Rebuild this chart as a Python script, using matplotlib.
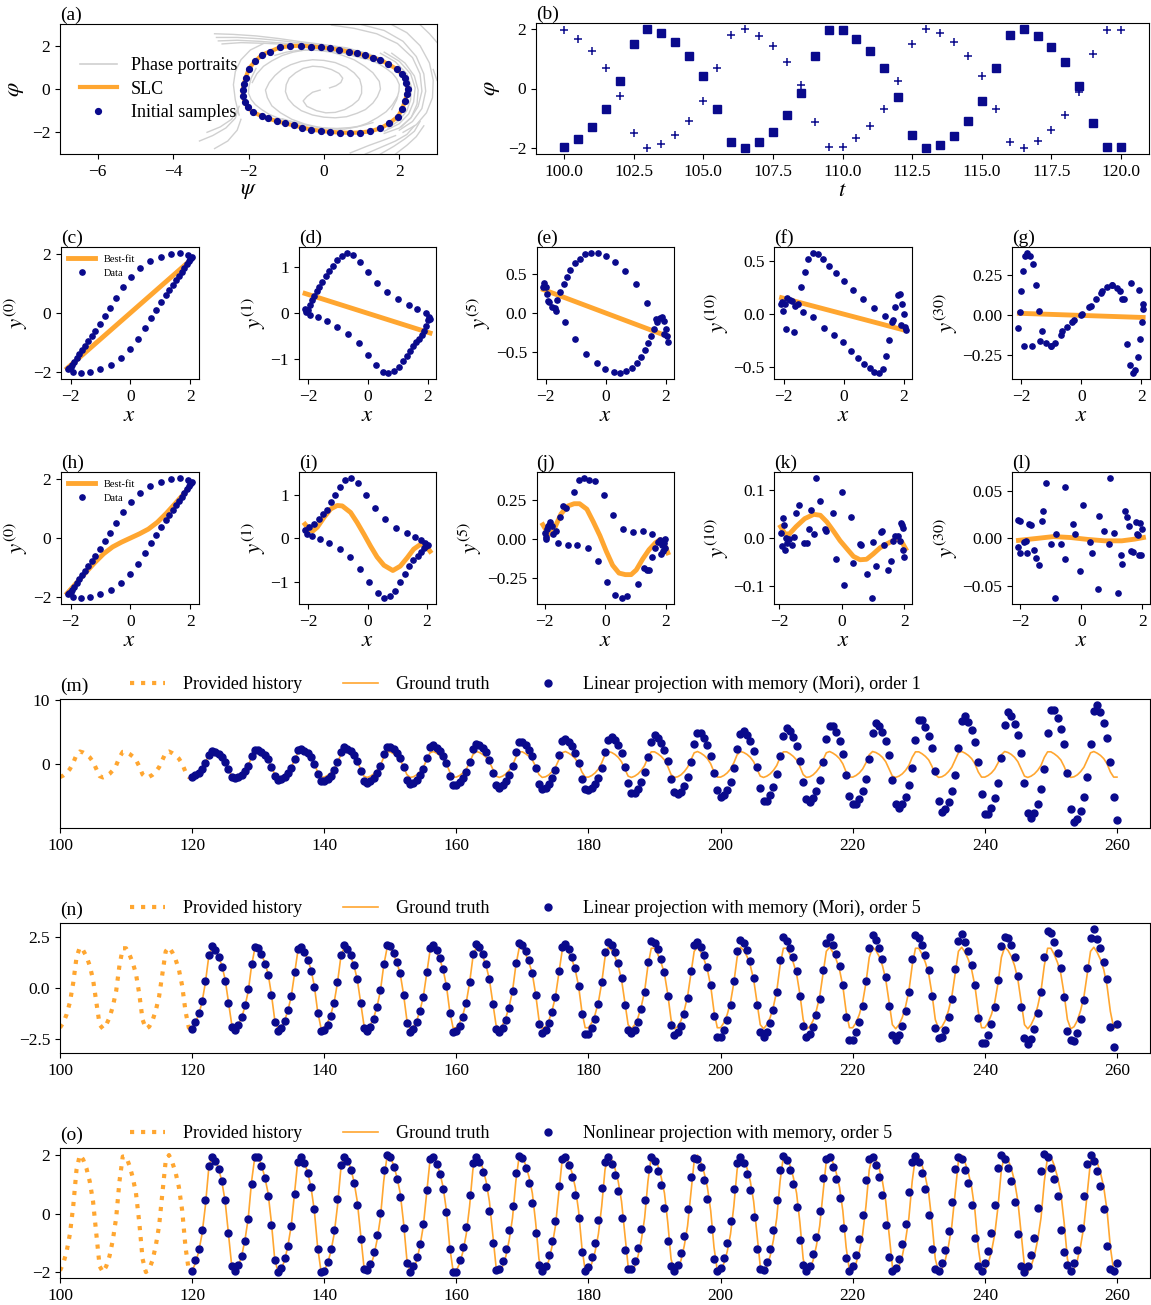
import numpy as np
import matplotlib.pyplot as plt

plt.rcParams['font.family'] = ['Liberation Serif', 'DejaVu Serif']
plt.rcParams['mathtext.fontset'] = 'stix'
plt.rcParams['font.size'] = 12.5

ORANGE = '#FFA630'
NAVY = '#0a0a8c'
GREY = '#d0d0d0'

# ---------------- (a) phase plane ----------------
slc_psi = [-0.89, -0.61, -0.35, -0.09, 0.17, 0.41, 0.66, 0.88, 1.10, 1.30, 1.50, 1.69, 1.94, 2.07,
           2.15, 2.19, 2.22, 2.20, 2.15, 2.07, 1.96, 1.73, 1.49, 1.23, 0.96, 0.69, 0.43, 0.17,
           -0.09, -0.35, -0.57, -0.80, -1.02, -1.25, -1.48, -1.65, -1.88, -2.02, -2.10, -2.15,
           -2.15, -2.13, -2.07, -1.99, -1.83, -1.64, -1.43, -1.17]
slc_phi = [1.98, 2.00, 1.96, 1.93, 1.87, 1.81, 1.72, 1.64, 1.55, 1.44, 1.33, 1.17, 0.91, 0.68,
           0.53, 0.29, 0.02, -0.25, -0.57, -0.94, -1.28, -1.59, -1.82, -1.95, -2.01, -2.02, -2.01, -1.98,
           -1.93, -1.87, -1.78, -1.68, -1.59, -1.48, -1.36, -1.25, -1.07, -0.85, -0.60, -0.34,
           -0.05, 0.22, 0.53, 0.94, 1.27, 1.58, 1.73, 1.92]

# hand-read grey trajectories (psi list, phi list)
portraits = [
    # bundle entering from the upper left, running along the top of the cycle
    ([-2.9, -2.4, -1.8, -1.2, -0.6, 0.0, 0.6, 1.2, 1.6], [2.55, 2.52, 2.45, 2.33, 2.18, 2.05, 1.9, 1.62, 1.35]),
    ([-2.85, -2.3, -1.7, -1.1, -0.5, 0.1, 0.7, 1.2], [2.38, 2.38, 2.32, 2.22, 2.1, 1.98, 1.82, 1.58]),
    ([-2.8, -2.3, -1.7, -1.1, -0.5, 0.2, 0.8], [2.22, 2.25, 2.2, 2.12, 2.04, 1.93, 1.75]),
    ([-2.7, -2.2, -1.6, -1.0, -0.4, 0.3], [2.08, 2.14, 2.11, 2.06, 2.0, 1.9]),
    # from the top edge, down the right-hand side
    ([0.2, 0.8, 1.4, 1.95, 2.35, 2.55, 2.6, 2.5, 2.3, 2.0, 1.6], [2.95, 2.8, 2.55, 2.1, 1.45, 0.7, -0.1, -0.8, -1.35, -1.8, -2.05]),
    ([1.0, 1.6, 2.1, 2.45, 2.65, 2.7, 2.6, 2.35, 2.0], [2.97, 2.7, 2.2, 1.5, 0.7, -0.1, -0.9, -1.5, -1.9]),
    ([1.8, 2.2, 2.55, 2.8, 2.9, 2.88, 2.72, 2.45, 2.1], [2.97, 2.6, 2.0, 1.2, 0.4, -0.4, -1.1, -1.65, -2.0]),
    ([2.55, 2.8, 3.0], [2.97, 2.55, 2.15]),
    ([2.9, 3.0], [0.9, 0.4]),
    # just outside the cycle on the right
    ([1.5, 1.9, 2.2, 2.32, 2.3, 2.2, 2.0, 1.7], [1.65, 1.25, 0.7, 0.1, -0.5, -1.0, -1.45, -1.8]),
    ([1.6, 2.0, 2.3, 2.42, 2.38, 2.25, 2.0, 1.6], [1.7, 1.28, 0.7, 0.05, -0.6, -1.15, -1.6, -1.95]),
    ([1.8, 2.15, 2.4, 2.5, 2.47, 2.32, 2.05], [1.65, 1.2, 0.6, -0.05, -0.7, -1.3, -1.75]),
    # lower right, from the bottom edge
    ([1.1, 1.5, 1.9, 2.2, 2.4], [-3.0, -2.7, -2.4, -2.1, -1.7]),
    ([1.5, 1.85, 2.15, 2.4, 2.55], [-3.0, -2.65, -2.3, -1.95, -1.5]),
    ([0.7, 1.2, 1.6, 1.9], [-2.95, -2.6, -2.35, -2.15]),
    ([1.9, 2.2, 2.45, 2.65], [-3.0, -2.6, -2.2, -1.7]),
    # lower left
    ([-3.3, -2.95, -2.6, -2.35, -2.25], [-2.4, -2.15, -1.8, -1.35, -0.8]),
    ([-3.1, -2.75, -2.45, -2.28], [-2.0, -1.75, -1.4, -0.9]),
    ([-2.9, -2.55, -2.3, -2.2], [-2.75, -2.4, -1.9, -1.4]),
    # left side, just outside the cycle
    ([-2.25, -2.35, -2.4, -2.35, -2.2, -1.95, -1.6], [-1.2, -0.5, 0.2, 0.8, 1.35, 1.8, 2.1]),
    # inner spirals
    ([0.15, 0.32, 0.45, 0.5, 0.4, 0.2, -0.05, -0.3, -0.55, -0.75, -0.92, -1.0, -1.02, -0.95, -0.8, -0.6, -0.3, 0.0,
      0.3, 0.6, 0.88, 1.1, 1.3, 1.42, 1.5, 1.47, 1.3, 1.08, 0.8, 0.5, 0.2, -0.15, -0.5, -0.82, -1.1, -1.38, -1.6, -1.78, -1.9],
     [0.05, 0.15, 0.3, 0.5, 0.72, 0.9, 1.02, 1.05, 0.95, 0.75, 0.5, 0.2, -0.12, -0.45, -0.75, -1.0, -1.2, -1.3,
      -1.33, -1.28, -1.12, -0.95, -0.65, -0.35, 0.0, 0.35, 0.75, 1.05, 1.35, 1.55, 1.7, 1.78, 1.8, 1.7, 1.55, 1.3, 1.05, 0.7, 0.3]),
    ([-0.1, -0.3, -0.45, -0.55, -0.45, -0.2, 0.05, 0.3, 0.55, 0.75, 0.92, 1.0, 1.0, 0.95, 0.8, 0.6, 0.3, 0.0,
      -0.3, -0.6, -0.88, -1.1, -1.3, -1.45, -1.55, -1.5, -1.38, -1.15, -0.85, -0.5, -0.15, 0.2, 0.55, 0.88, 1.15, 1.42, 1.65, 1.82, 1.95],
     [-0.05, -0.15, -0.35, -0.55, -0.8, -1.0, -1.1, -1.08, -0.95, -0.75, -0.5, -0.2, 0.12, 0.45, 0.75, 1.0, 1.22, 1.32,
      1.35, 1.28, 1.12, 0.92, 0.62, 0.3, -0.05, -0.4, -0.78, -1.1, -1.4, -1.62, -1.76, -1.85, -1.85, -1.75, -1.58, -1.32, -1.05, -0.72, -0.35]),
    ([0.6, 0.9, 1.2, 1.45, 1.65, 1.82, 1.93, 2.0, 1.99, 1.93, 1.8], [1.6, 1.5, 1.35, 1.17, 0.95, 0.72, 0.48, 0.2, -0.1, -0.5, -0.95]),
    ([-0.6, -0.9, -1.2, -1.45, -1.65, -1.82, -1.93, -2.0, -1.99, -1.93, -1.8], [-1.6, -1.5, -1.35, -1.17, -0.95, -0.72, -0.48, -0.2, 0.1, 0.5, 0.95]),
    ([-1.3, -1.0, -0.7, -0.35, 0.0, 0.3, 0.6, 0.85, 1.1], [1.55, 1.7, 1.78, 1.8, 1.78, 1.72, 1.62, 1.5, 1.38]),
    ([1.3, 1.0, 0.7, 0.35, 0.0, -0.3, -0.6, -0.85, -1.1], [-1.55, -1.7, -1.78, -1.82, -1.8, -1.74, -1.62, -1.5, -1.38]),
]

# ---------------- (b) sampled history, t = 100 ... 120 ----------------
t_hist = np.arange(100.0, 120.01, 0.5)
psi_hist = [-1.95, -1.70, -1.30, -0.70, 0.25, 1.50, 2.00, 1.85, 1.55, 1.10, 0.42, -0.70, -1.80, -2.00,
            -1.80, -1.45, -0.90, -0.15, 1.10, 1.95, 1.95, 1.65, 1.25, 0.70, -0.30, -1.55, -2.00, -1.90,
            -1.60, -1.10, -0.42, 0.70, 1.80, 2.00, 1.75, 1.40, 0.90, 0.10, -1.15, -1.95, -1.95]
phi_hist = [1.95, 1.65, 1.25, 0.70, -0.25, -1.50, -2.00, -1.85, -1.55, -1.10, -0.42, 0.70, 1.80, 2.00,
            1.78, 1.42, 0.90, 0.12, -1.12, -1.95, -1.95, -1.65, -1.25, -0.70, 0.25, 1.50, 2.00, 1.85,
            1.55, 1.10, 0.42, -0.70, -1.80, -2.00, -1.75, -1.40, -0.90, -0.12, 1.15, 1.95, 1.95]

# ---------------- rows (c)-(l): regression of the memory terms ----------------
x_samples = [-2.10, -1.93, -1.66, -1.37, -1.02, -0.65, -0.31, -0.01, 0.26, 0.49, 0.69, 0.87, 1.03, 1.18,
             1.30, 1.41, 1.52, 1.62, 1.71, 1.80, 1.88, 1.95, 2.01, 2.04,
             2.07, 1.93, 1.66, 1.37, 1.02, 0.65, 0.31, 0.01, -0.26, -0.49, -0.69, -0.87, -1.03, -1.18,
             -1.30, -1.41, -1.52, -1.62, -1.71, -1.80, -1.88, -1.95, -2.01, -2.06]
y0 = [-1.88, -1.97, -2.02, -1.99, -1.90, -1.75, -1.51, -1.20, -0.86, -0.50, -0.18, 0.11, 0.36, 0.59,
      0.78, 0.95, 1.10, 1.24, 1.38, 1.51, 1.64, 1.75, 1.82, 1.86,
      1.90, 1.96, 2.02, 1.99, 1.90, 1.75, 1.51, 1.20, 0.86, 0.50, 0.18, -0.11, -0.36, -0.59,
      -0.78, -0.95, -1.10, -1.24, -1.38, -1.51, -1.64, -1.75, -1.82, -1.86]
y1_lin = [0.10, -0.03, -0.09, -0.17, -0.29, -0.45, -0.65, -0.90, -1.12, -1.27, -1.30, -1.26, -1.16, -1.04,
          -0.93, -0.82, -0.72, -0.63, -0.55, -0.47, -0.39, -0.28, -0.15, -0.08,
          -0.12, 0.00, 0.09, 0.18, 0.30, 0.46, 0.66, 0.90, 1.12, 1.26, 1.31, 1.25, 1.15, 1.02,
          0.92, 0.80, 0.68, 0.58, 0.48, 0.38, 0.28, 0.18, 0.08, 0.02]
y5_lin = [0.33, 0.16, 0.02, -0.12, -0.34, -0.52, -0.64, -0.72, -0.76, -0.77, -0.75, -0.71, -0.64, -0.57,
          -0.47, -0.38, -0.29, -0.20, -0.12, -0.07, -0.05, -0.10, -0.20, -0.30,
          -0.37, -0.27, -0.08, 0.13, 0.37, 0.54, 0.65, 0.73, 0.77, 0.77, 0.76, 0.69, 0.64, 0.55,
          0.46, 0.37, 0.27, 0.17, 0.06, 0.08, 0.14, 0.25, 0.33, 0.38]
y10_lin = [0.10, -0.14, -0.17, 0.02, -0.03, -0.13, -0.20, -0.27, -0.35, -0.42, -0.47, -0.51, -0.55, -0.56,
           -0.52, -0.40, -0.25, -0.08, 0.07, 0.18, 0.19, 0.10, 0.00, -0.12,
           -0.15, -0.10, -0.06, -0.02, 0.06, 0.14, 0.23, 0.31, 0.39, 0.46, 0.52, 0.57, 0.58, 0.52,
           0.40, 0.26, 0.10, 0.08, 0.12, 0.13, 0.15, 0.10, 0.03, 0.11]
y30_lin = [-0.08, -0.19, -0.19, -0.16, -0.19, -0.10, -0.04, 0.00, 0.05, 0.10, 0.15, 0.18, 0.19, 0.17,
           0.15, 0.10, -0.18, -0.31, -0.36, -0.34, -0.26, -0.15, -0.04, 0.04,
           0.07, 0.16, 0.20, 0.10, 0.19, 0.14, 0.06, 0.01, -0.03, -0.07, -0.12, -0.17, -0.19, -0.17,
           -0.10, 0.03, 0.19, 0.32, 0.37, 0.39, 0.37, 0.28, 0.15, 0.02]

fit_c = ([-2.12, 2.07], [-1.86, 1.83])
fit_d = ([-2.10, 2.08], [0.43, -0.43])
fit_e = ([-2.08, 2.07], [0.30, -0.30])
fit_f = ([-2.07, 2.06], [0.155, -0.155])
fit_g = ([-2.07, 2.06], [0.013, -0.013])

# nonlinear projection row
x_i = [-2.10, -1.97, -1.80, -1.63, -1.51, -1.35, -1.24, -1.09, -0.94, -0.76, -0.55, -0.32, -0.06, 0.26,
       0.60, 0.97, 1.31, 1.61, 1.80, 1.94, 2.02,
       -2.04, -1.85, -1.60, -1.30, -0.94, -0.59, -0.26, 0.06, 0.34, 0.55, 0.75, 0.93, 1.09, 1.25,
       1.39, 1.54, 1.68, 1.80, 1.89, 1.98]
y_i = [0.18, 0.25, 0.32, 0.44, 0.55, 0.65, 0.82, 1.00, 1.18, 1.34, 1.38, 1.26, 1.00, 0.69,
       0.43, 0.23, 0.11, 0.03, -0.05, -0.10, -0.15,
       0.09, 0.05, -0.01, -0.10, -0.24, -0.43, -0.70, -1.00, -1.25, -1.37, -1.33, -1.20, -1.00, -0.82,
       -0.64, -0.51, -0.41, -0.31, -0.23, -0.18]
x_j = [-1.99, -1.95, -1.91, -1.85, -1.81, -1.76, -1.72, -1.64, -1.55, -1.50, -1.41, -1.31, -1.24, -1.03,
       -0.93, -0.88, -0.72, -0.54, -0.33, -0.57, -0.23, -0.04, 0.06, 0.25, 0.31, 0.54, 0.73, 0.59,
       0.92, 1.06, 1.24, 1.29, 1.37, 1.44, 1.53, 1.54, 1.65, 1.72, 1.80, 1.87, 1.89, 1.94, 1.96,
       1.98, 1.83, -1.89, -1.97]
y_j = [0.04, 0.01, 0.06, 0.09, 0.11, 0.08, 0.03, 0.05, -0.03, 0.14, 0.21, 0.20, -0.04, 0.30,
       -0.04, 0.38, 0.39, 0.38, 0.37, -0.06, -0.14, 0.28, -0.28, 0.15, -0.36, -0.38, -0.37, 0.06,
       0.045, -0.29, 0.05, -0.19, -0.20, -0.20, -0.12, 0.03, -0.06, -0.02, -0.005, -0.04, -0.08, -0.03, 0.0,
       -0.06, -0.10, 0.08, 0.00]
x_k = [-1.89, -1.85, -1.92, -1.82, -1.75, -1.68, -1.61, -1.54, -1.47, -1.36, -1.22, -1.12, -1.05, -0.98,
       -0.88, -0.83, -0.69, -0.55, -0.51, -0.27, -0.20, -0.01, 0.08, 0.30, 0.37, 0.58, 0.62, 0.79,
       0.98, 0.96, 1.10, 1.24, 1.29, 1.36, 1.47, 1.57, 1.64, 1.71, 1.78, 1.85, 1.89, 1.92, 1.96,
       1.96, 1.99, -1.95, -1.78]
y_k = [0.042, 0.026, -0.018, -0.025, -0.011, -0.002, -0.016, 0.001, 0.051, 0.069, -0.011, -0.011, 0.019, 0.058,
       0.008, 0.125, 0.077, 0.019, 0.014, 0.051, -0.045, 0.095, -0.098, 0.044, -0.052, -0.013, -0.016, -0.076,
       -0.009, -0.126, -0.059, 0.012, 0.014, -0.016, -0.068, -0.048, -0.006, 0.003, 0.003, -0.006, 0.030, 0.026, 0.021,
       -0.025, -0.041, 0.010, 0.000]
x_l = [-2.06, -2.00, -2.06, -2.00, -1.89, -1.82, -1.78, -1.71, -1.64, -1.54, -1.50, -1.40, -1.29, -1.26,
       -1.15, -0.98, -0.87, -0.84, -0.67, -0.52, -0.52, -0.28, -0.21, -0.03, 0.07, 0.28, 0.35, 0.56,
       0.59, 0.74, 0.91, 0.94, 1.08, 1.22, 1.29, 1.33, 1.43, 1.51, 1.58, 1.64, 1.71, 1.78, 1.82,
       1.89, 1.93, 1.96, 1.99, 1.85]
y_l = [0.020, 0.018, -0.0085, -0.015, -0.004, -0.003, -0.015, 0.015, 0.014, -0.012, -0.021, -0.028, 0.019, 0.029,
       0.059, -0.006, -0.063, 0.005, -0.006, 0.055, -0.022, 0.015, 0.005, -0.034, 0.035, -0.004, -0.015, -0.054,
       0.024, 0.008, -0.006, 0.064, 0.006, -0.058, -0.018, -0.027, 0.029, 0.023, 0.013, -0.013, -0.014, 0.017, 0.005,
       -0.017, 0.016, -0.018, 0.010, 0.004]

fit_h = ([-2.12, -1.8, -1.5, -1.2, -0.9, -0.6, -0.3, 0.0, 0.3, 0.6, 0.9, 1.2, 1.5, 1.8, 2.07],
         [-1.86, -1.5, -1.16, -0.83, -0.53, -0.30, -0.14, 0.0, 0.14, 0.30, 0.53, 0.83, 1.16, 1.5, 1.86])
fit_i = ([-2.10, -1.97, -1.85, -1.69, -1.46, -1.24, -1.02, -0.85, -0.57, -0.35, -0.12, 0.10, 0.32, 0.55,
          0.85, 1.10, 1.33, 1.55, 1.78, 1.94, 2.10],
         [0.32, 0.21, 0.16, 0.25, 0.48, 0.67, 0.75, 0.74, 0.59, 0.36, 0.09, -0.18, -0.43, -0.62,
          -0.74, -0.64, -0.45, -0.25, -0.14, -0.15, -0.30])
fit_j = ([-2.06, -1.92, -1.81, -1.67, -1.46, -1.24, -1.03, -0.85, -0.61, -0.40, -0.18, 0.03, 0.24, 0.45,
          0.66, 0.85, 1.02, 1.23, 1.44, 1.65, 1.80, 1.89, 2.00, 2.06],
         [0.09, 0.045, 0.03, 0.07, 0.16, 0.21, 0.225, 0.225, 0.19, 0.11, 0.02, -0.08, -0.17, -0.22,
          -0.23, -0.23, -0.20, -0.13, -0.07, -0.026, -0.005, -0.015, -0.06, -0.09])
fit_k = ([-1.96, -1.82, -1.68, -1.47, -1.19, -0.90, -0.69, -0.48, -0.27, -0.06, 0.16, 0.37, 0.58, 0.79,
          1.00, 1.22, 1.43, 1.64, 1.78, 1.92, 2.04],
         [0.023, 0.008, 0.008, 0.023, 0.040, 0.049, 0.047, 0.033, 0.014, -0.006, -0.023, -0.039, -0.046, -0.045,
          -0.034, -0.021, -0.013, -0.006, -0.002, -0.009, -0.023])
fit_l = ([-2.06, -1.47, -0.91, -0.35, 0.21, 0.77, 1.33, 1.75, 2.04],
         [-0.002, 0.0, 0.002, 0.001, -0.001, -0.0025, -0.0025, -0.0007, 0.001])

# ---------------- (m)-(o) forecasts, t = 120 ... 260 step 0.5 ----------------
t_pred = np.arange(120.0, 260.01, 0.5)
# the history window holds exactly three cycles, so the reference repeats every 40 samples
gt_pred = np.tile(psi_hist[:40], 8)[:len(t_pred)]

mori1_pred = [
    -1.9, -1.7, -1.3, -0.7, 0.25, 1.53, 2.04, 1.89, 1.6, 1.13, 0.43, -0.75, -1.93, -2.14, -1.93, -1.6, -1.0, -0.17, 1.27, 2.24,
    2.24, 1.9, 1.45, 0.81, -0.35, -1.81, -2.34, -2.22, -1.89, -1.32, -0.5, 0.85, 2.2, 2.44, 2.14, 1.74, 1.13, 0.13, -1.52, -2.57,
    -2.57, -2.24, -1.72, -0.92, 0.33, 1.98, 2.64, 2.44, 2.08, 1.49, 0.58, -0.98, -2.52, -2.8, -2.52, -2.03, -1.26, -0.21, 1.54, 2.73,
    2.73, 2.34, 1.8, 1.02, -0.45, -2.33, -3.0, -2.85, -2.4, -1.65, -0.63, 1.04, 2.66, 2.96, 2.59, 2.1, 1.37, 0.16, -1.84, -3.12,
    -3.12, -2.72, -2.08, -1.12, 0.4, 2.4, 3.2, 2.96, 2.56, 1.87, 0.74, -1.26, -3.24, -3.6, -3.24, -2.61, -1.62, -0.27, 1.96, 3.47,
    3.47, 2.97, 2.28, 1.3, -0.57, -2.95, -3.8, -3.61, -3.04, -2.11, -0.82, 1.39, 3.58, 3.98, 3.48, 2.8, 1.8, 0.2, -2.24, -3.8,
    -3.9, -3.66, -3.08, -2.1, -0.49, 1.92, 3.82, 4.21, 3.74, 2.95, 1.71, -0.32, -2.86, -4.35, -4.35, -3.75, -2.71, -1.22, 1.11, 3.53,
    4.5, 4.16, 3.38, 2.29, 0.47, -2.19, -4.2, -4.6, -4.2, -3.27, -1.86, 0.35, 3.19, 4.85, 4.79, 4.04, 2.96, 1.29, -1.37, -4.01,
    -5.05, -4.76, -3.93, -2.64, -0.61, 2.35, 4.67, 5.15, 4.59, 3.66, 2.13, -0.41, -3.69, -5.6, -5.6, -4.78, -3.42, -1.53, 1.38, 4.39,
    5.6, 5.18, 4.2, 2.86, 0.59, -2.76, -5.29, -5.8, -5.25, -4.12, -2.36, 0.44, 3.95, 6.0, 5.94, 5.01, 3.65, 1.59, -1.69, -4.93,
    -6.05, -6.05, -5.3, -4.08, -2.21, 0.8, 4.8, 6.4, 5.96, 5.04, 3.63, 1.41, -2.37, -6.08, -6.76, -6.12, -4.96, -3.1, -0.52, 3.85,
    6.83, 6.83, 5.81, 4.44, 2.51, -1.08, -5.63, -7.26, -6.9, -5.84, -4.05, -1.55, 2.61, 6.71, 7.46, 6.56, 5.32, 3.47, 0.39, -4.52,
    -7.66, -7.7, -6.75, -5.2, -2.8, 1.0, 6.05, 8.06, 7.49, 6.31, 4.51, 1.73, -2.89, -7.43, -8.26, -7.47, -6.09, -3.83, -0.65, 4.79,
    8.48, 8.48, 7.21, 5.5, 3.09, -1.34, -6.9, -8.9, -8.46, -7.2, -4.95, -1.91, 3.22, 8.28, 9.2, 8.05, 6.37, 4.05, 0.45, -5.06,
    -8.58]

mori5_pred = [
    -2.0, -1.65, -1.25, -0.62, 0.35, 1.6, 2.05, 1.85, 1.5, 1.05, 0.35, -0.75, -1.9, -2.05, -1.8, -1.4, -0.85, -0.05, 1.2, 2.0,
    1.95, 1.65, 1.2, 0.65, -0.35, -1.65, -2.1, -1.95, -1.6, -1.1, -0.4, 0.78, 1.92, 2.02, 1.75, 1.35, 0.85, 0.05, -1.25, -2.1,
    -2.05, -1.8, -1.35, -0.72, 0.3, 1.62, 2.12, 1.92, 1.62, 1.12, 0.42, -0.75, -1.95, -2.12, -1.9, -1.52, -0.95, -0.12, 1.2, 2.12,
    2.05, 1.72, 1.3, 0.72, -0.32, -1.7, -2.15, -2.0, -1.68, -1.15, -0.42, 0.78, 1.98, 2.1, 1.85, 1.45, 0.95, 0.12, -1.25, -2.15,
    -2.12, -1.85, -1.4, -0.75, 0.3, 1.68, 2.18, 2.0, 1.68, 1.2, 0.45, -0.78, -2.0, -2.15, -1.95, -1.55, -0.98, -0.15, 1.25, 2.22,
    2.1, 1.8, 1.35, 0.75, -0.35, -1.75, -2.22, -2.05, -1.72, -1.2, -0.45, 0.82, 2.02, 2.15, 1.9, 1.5, 0.98, 0.12, -1.3, -2.25,
    -2.28, -1.95, -1.5, -0.8, 0.3, 1.75, 2.25, 2.12, 1.78, 1.25, 0.48, -0.82, -2.08, -2.22, -2.05, -1.65, -1.05, -0.18, 1.3, 2.32,
    2.22, 1.9, 1.42, 0.8, -0.38, -1.8, -2.3, -2.18, -1.85, -1.28, -0.5, 0.85, 2.1, 2.28, 2.0, 1.6, 1.05, 0.15, -1.35, -2.4,
    -2.4, -2.05, -1.58, -0.85, 0.32, 1.82, 2.35, 2.2, 1.85, 1.32, 0.5, -0.85, -2.15, -2.4, -2.15, -1.72, -1.1, -0.2, 1.35, 2.5,
    2.3, 1.98, 1.5, 0.85, -0.38, -1.88, -2.4, -2.28, -1.92, -1.32, -0.52, 0.88, 2.2, 2.48, 2.1, 1.68, 1.1, 0.15, -1.4, -2.55,
    -2.55, -2.15, -1.65, -0.9, 0.35, 1.95, 2.6, 2.35, 1.98, 1.4, 0.55, -0.9, -2.3, -2.55, -2.3, -1.85, -1.15, -0.2, 1.42, 2.62,
    2.45, 2.1, 1.6, 0.9, -0.4, -1.95, -2.45, -2.42, -2.05, -1.4, -0.55, 0.92, 2.3, 2.65, 2.25, 1.8, 1.15, 0.15, -1.45, -2.72,
    -2.7, -2.3, -1.78, -0.95, 0.38, 2.05, 2.5, 2.45, 2.1, 1.52, 0.58, -0.95, -2.45, -2.77, -2.5, -2.0, -1.25, -0.22, 1.52, 2.8,
    2.7, 2.28, 1.72, 0.98, -0.42, -2.1, -2.56, -2.6, -2.2, -1.5, -0.58, 0.98, 2.45, 2.9, 2.4, 1.95, 1.3, 0.43, -1.9, -2.9,
    -1.76]

nonlin5_pred = [
    -1.95, -1.6, -1.2, -0.55, 0.45, 1.62, 1.95, 1.8, 1.52, 1.1, 0.45, -0.65, -1.78, -1.95, -1.75, -1.45, -0.95, -0.2, 1.0, 1.95,
    1.95, 1.62, 1.2, 0.6, -0.4, -1.6, -1.98, -1.85, -1.52, -1.1, -0.42, 0.68, 1.78, 1.95, 1.72, 1.4, 0.92, 0.15, -1.2, -1.98,
    -1.95, -1.65, -1.2, -0.55, 0.5, 1.65, 1.95, 1.8, 1.48, 1.05, 0.3, -0.88, -1.88, -1.92, -1.72, -1.3, -0.72, 0.02, 1.5, 2.0,
    1.92, 1.6, 1.18, 0.55, -0.5, -1.7, -2.0, -1.8, -1.5, -1.05, -0.35, 0.8, 1.85, 1.95, 1.7, 1.35, 0.85, 0.05, -1.2, -2.0,
    -1.98, -1.6, -1.15, -0.45, 0.62, 1.72, 1.92, 1.75, 1.42, 0.9, 0.1, -1.0, -1.92, -1.9, -1.62, -1.2, -0.55, 0.25, 1.38, 1.98,
    1.9, 1.55, 1.05, 0.35, -0.65, -1.75, -1.95, -1.78, -1.42, -0.95, -0.25, 0.95, 1.88, 1.95, 1.65, 1.25, 0.65, -0.15, -1.3, -1.95,
    -1.83, -1.5, -1.0, -0.23, 0.88, 1.75, 1.93, 1.7, 1.33, 0.76, -0.14, -1.25, -1.9, -1.9, -1.63, -1.18, -0.53, 0.48, 1.53, 1.95,
    1.8, 1.45, 0.98, 0.2, -0.93, -1.78, -1.95, -1.75, -1.35, -0.76, 0.14, 1.25, 1.9, 1.88, 1.58, 1.15, 0.5, -0.53, -1.55, -1.95,
    -1.85, -1.52, -1.02, -0.25, 0.85, 1.72, 1.95, 1.72, 1.35, 0.8, -0.1, -1.22, -1.88, -1.92, -1.65, -1.2, -0.55, 0.45, 1.5, 1.97,
    1.82, 1.48, 1.0, 0.22, -0.9, -1.75, -1.97, -1.78, -1.38, -0.8, 0.1, 1.22, 1.88, 1.92, 1.6, 1.18, 0.52, -0.5, -1.52, -1.95,
    -1.78, -1.42, -0.88, -0.05, 1.15, 1.85, 1.92, 1.65, 1.25, 0.62, -0.38, -1.5, -1.95, -1.85, -1.55, -1.05, -0.35, 0.75, 1.75, 1.97,
    1.75, 1.38, 0.85, -0.05, -1.2, -1.9, -1.95, -1.7, -1.25, -0.6, 0.4, 1.52, 1.95, 1.85, 1.5, 1.05, 0.3, -0.85, -1.8, -1.95,
    -1.7, -1.28, -0.65, 0.3, 1.55, 2.0, 1.85, 1.55, 1.1, 0.4, -0.7, -1.8, -2.0, -1.8, -1.42, -0.85, 0.2, 1.47, 2.04, 1.94,
    1.56, 1.17, 0.6, -0.55, -1.3, -1.75, -1.95, -1.7, -1.25, -0.5, 0.6, 1.7, 2.0, 1.8, 1.45, 0.95, 0.15, -1.1, -1.9, -1.95,
    -1.7]

# ---------------- figure ----------------
fig = plt.figure(figsize=(11.51, 13.05), dpi=100)
W, H = 1151.0, 1305.0
LABEL_FS = 16.5


def add_axes(left, top, right, bottom):
    return fig.add_axes([left / W, 1 - bottom / H, (right - left) / W, (bottom - top) / H])


# (a)
ax = add_axes(60, 24, 437, 154)
for px, py in portraits:
    ax.plot(px, py, color=GREY, lw=1.0, zorder=1)
ax.plot([], [], color=GREY, lw=1.2, label='Phase portraits')
ax.plot(slc_psi + slc_psi[:1], slc_phi + slc_phi[:1], color=ORANGE, lw=3, label='SLC', zorder=2)
ax.plot(slc_psi, slc_phi, 'o', color=NAVY, ms=4.2, label='Initial samples', zorder=3)
ax.set_xlim(-7, 3)
ax.set_ylim(-3, 3)
ax.set_xticks([-6, -4, -2, 0, 2])
ax.set_yticks([-2, 0, 2])
ax.set_xlabel(r'$\psi$', fontsize=LABEL_FS, labelpad=0)
ax.set_ylabel(r'$\varphi$', fontsize=LABEL_FS)
ax.set_title('(a)', loc='left', pad=3, fontsize=14)
ax.legend(loc='center left', bbox_to_anchor=(0.035, 0.5), frameon=False, fontsize=13,
          handlelength=2.0, labelspacing=0.35, borderaxespad=0)

# (b)
ax = add_axes(536, 23, 1149, 154)
ax.plot(t_hist, psi_hist, 's', color=NAVY, ms=5.5)
ax.plot(t_hist, phi_hist, '+', color=NAVY, ms=5.5, mew=1.1)
ax.set_yticks([-2, 0, 2])
ax.set_xlabel(r'$t$', fontsize=LABEL_FS, labelpad=0)
ax.set_ylabel(r'$\varphi$', fontsize=LABEL_FS)
ax.set_title('(b)', loc='left', pad=3, fontsize=14)

# rows of regression panels
lefts = [61 + 237.8 * i for i in range(5)]
row2 = [
    ('(c)', x_samples, y0, fit_c, r'$y^{(0)}$', [-2, 0, 2]),
    ('(d)', x_samples, y1_lin, fit_d, r'$y^{(1)}$', [-1, 0, 1]),
    ('(e)', x_samples, y5_lin, fit_e, r'$y^{(5)}$', [-0.5, 0.0, 0.5]),
    ('(f)', x_samples, y10_lin, fit_f, r'$y^{(10)}$', [-0.5, 0.0, 0.5]),
    ('(g)', x_samples, y30_lin, fit_g, r'$y^{(30)}$', [-0.25, 0.0, 0.25]),
]
row3 = [
    ('(h)', x_samples, y0, fit_h, r'$y^{(0)}$', [-2, 0, 2]),
    ('(i)', x_i, y_i, fit_i, r'$y^{(1)}$', [-1, 0, 1]),
    ('(j)', x_j, y_j, fit_j, r'$y^{(5)}$', [-0.25, 0.0, 0.25]),
    ('(k)', x_k, y_k, fit_k, r'$y^{(10)}$', [-0.1, 0.0, 0.1]),
    ('(l)', x_l, y_l, fit_l, r'$y^{(30)}$', [-0.05, 0.0, 0.05]),
]
for row, (top, bottom) in [(row2, (247, 379)), (row3, (472, 604))]:
    for i, (lab, xs, ys, fit, ylab, yt) in enumerate(row):
        ax = add_axes(lefts[i], top, lefts[i] + 137.5, bottom)
        ax.plot(fit[0], fit[1], color=ORANGE, lw=3.5, label='Best-fit', zorder=2)
        ax.plot(xs, ys, 'o', color=NAVY, ms=3.8, label='Data', zorder=3)
        ax.set_xticks([-2, 0, 2])
        ax.set_yticks(yt)
        ax.set_xlabel(r'$x$', fontsize=LABEL_FS, labelpad=0)
        ax.set_ylabel(ylab, fontsize=LABEL_FS, labelpad=2)
        ax.set_title(lab, loc='left', pad=3, fontsize=14)
        if i == 0:
            ax.legend(loc='upper left', frameon=False, fontsize=7.5, handlelength=2.6,
                      borderaxespad=0.3, labelspacing=0.5)

# forecast panels
series = [
    ('(m)', mori1_pred, 'Linear projection with memory (Mori), order 1', (699, 828)),
    ('(n)', mori5_pred, 'Linear projection with memory (Mori), order 5', (923, 1053)),
    ('(o)', nonlin5_pred, 'Nonlinear projection with memory, order 5', (1148, 1278)),
]
for lab, pred, name, (top, bottom) in series:
    ax = add_axes(60, top, 1150, bottom)
    ax.plot(t_hist, psi_hist, ':', color=ORANGE, lw=3, label='Provided history')
    ax.plot(t_pred, gt_pred, '-', color=ORANGE, lw=1.2, label='Ground truth')
    ax.plot(t_pred, pred, 'o', color=NAVY, ms=5, label=name)
    ax.set_xlim(100, 265)
    ax.set_xticks(np.arange(100, 261, 20))
    ax.set_title(lab, loc='left', fontsize=14)
    ax.legend(loc='lower left', bbox_to_anchor=(0.058, 0.99), ncol=3, frameon=False,
              fontsize=13, handlelength=1.9, handletextpad=1.0, columnspacing=2.3,
              borderaxespad=0)

fig.savefig('out.png', dpi=100)
